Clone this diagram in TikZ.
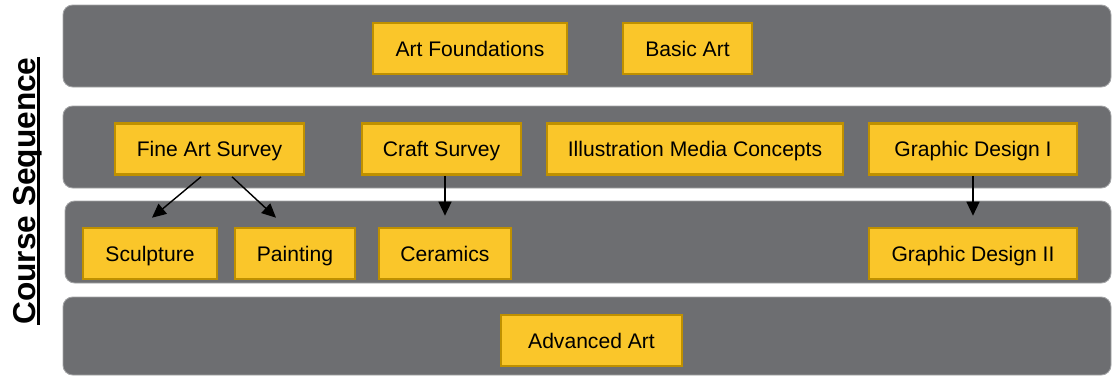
\documentclass[tikz,border=0pt]{standalone}
\usepackage{fontspec}
\setmainfont{Liberation Sans}
\usepackage{xcolor}
\usepackage{tikz}
\usetikzlibrary{arrows.meta,positioning}
\definecolor{bandgray}{HTML}{6D6E71}
\definecolor{bandedge}{HTML}{A3A4A6}
\definecolor{courseyellow}{HTML}{FAC62A}
\definecolor{coursegold}{HTML}{BF9000}

\begin{document}
\begin{tikzpicture}[
  band/.style={fill=bandgray, draw=bandedge, line width=0.5pt, rounded corners=5.5pt},
  course/.style={draw=coursegold, fill=courseyellow, line width=1.5pt, minimum height=1.02cm, inner sep=0pt, text height=8.6pt, text depth=0pt, font=\fontsize{12}{14}\selectfont},
  arrow/.style={-{Triangle[length=2.8mm, width=2.6mm]}, line width=0.8pt, black}
]
\useasboundingbox (0,0) rectangle (22.24,7.52);

% one band per year
\draw[band] (1.26,5.78) rectangle (22.22,7.42);
\draw[band] (1.26,3.76) rectangle (22.22,5.40);
\draw[band] (1.30,1.86) rectangle (22.22,3.50);
\draw[band] (1.26,0.02) rectangle (22.22,1.58);

\node[rotate=90, anchor=base, inner sep=0pt, font=\fontsize{18}{22}\selectfont\bfseries] (title) at (0.71,3.70) {Course Sequence};
\draw[line width=1.7pt] ([xshift=1.8pt]title.base west) -- ([xshift=1.8pt]title.base east);

\node[course, minimum width=3.88cm] (artfound) at (9.40,6.55) {Art Foundations};
\node[course, minimum width=2.58cm] (basicart) at (13.75,6.55) {Basic Art};

\node[course, minimum width=3.78cm] (fineart) at (4.19,4.54) {Fine Art Survey};
\node[course, minimum width=3.18cm] (craft) at (8.83,4.54) {Craft Survey};
\node[course, minimum width=5.92cm] (illus) at (13.90,4.54) {Illustration Media Concepts};
\node[course, minimum width=4.16cm] (gdone) at (19.46,4.54) {Graphic Design I};

\node[course, minimum width=2.68cm] (sculpt) at (3.00,2.45) {Sculpture};
\node[course, minimum width=2.40cm] (paint) at (5.90,2.45) {Painting};
\node[course, minimum width=2.64cm] (ceram) at (8.90,2.45) {Ceramics};
\node[course, minimum width=4.16cm] (gdtwo) at (19.46,2.45) {Graphic Design II};

\node[course, minimum width=3.62cm] (advanced) at (11.83,0.71) {Advanced Art};

\draw[arrow] ([xshift=-0.17cm, yshift=-0.02cm]fineart.south) -- ([xshift=0.04cm, yshift=0.18cm]sculpt.north);
\draw[arrow] ([xshift=0.45cm, yshift=-0.02cm]fineart.south) -- ([xshift=-0.38cm, yshift=0.18cm]paint.north);
\draw[arrow] (craft.south -| ceram.north) -- ([yshift=0.22cm]ceram.north);
\draw[arrow] (gdone.south) -- ([yshift=0.22cm]gdtwo.north);
\end{tikzpicture}
\end{document}
